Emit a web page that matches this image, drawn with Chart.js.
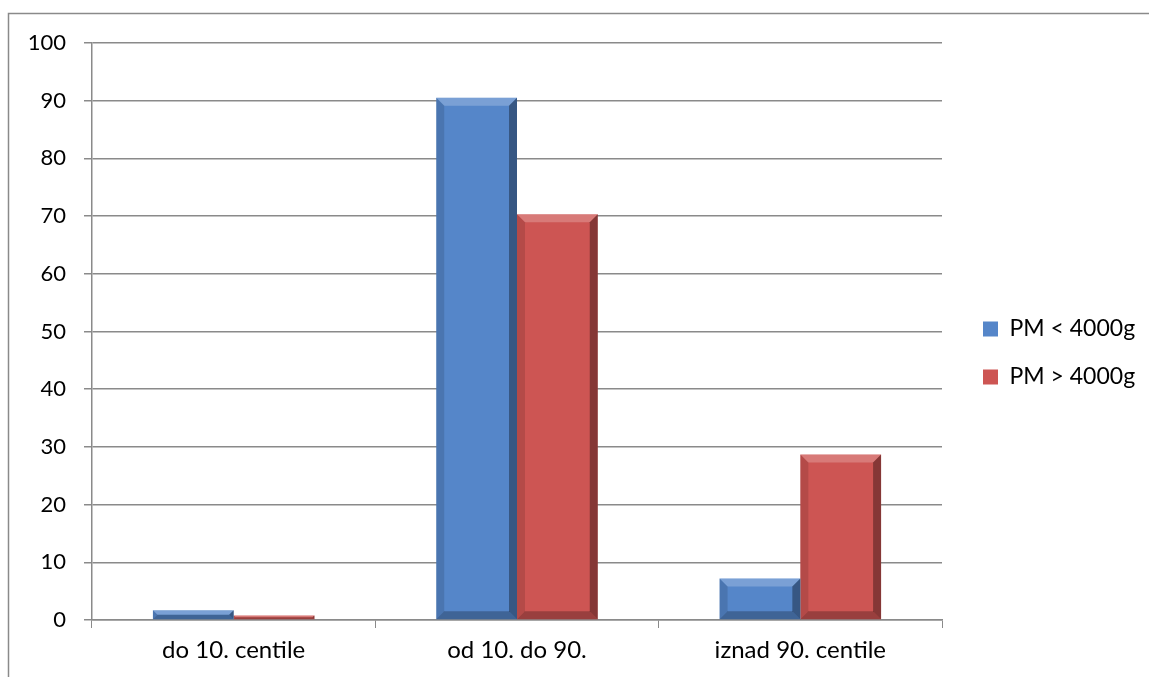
<!DOCTYPE html>
<html>
<head>
<meta charset="utf-8">
<script src="https://cdn.jsdelivr.net/npm/chart.js@4"></script>
<style>
  html, body { margin: 0; padding: 0; background: #fff; }
  #wrap { width: 1149px; height: 677px; }
</style>
</head>
<body>
<div id="wrap"><canvas id="chart" width="1149" height="677"></canvas></div>
<script>
const categories = ['do 10. centile', 'od 10. do 90.', 'iznad 90. centile'];
const seriesNames = ['PM < 4000g', 'PM > 4000g'];
const under4000 = [1.7, 90.5, 7.2];
const over4000 = [0.8, 70.3, 28.7];
const yTicks = [0, 10, 20, 30, 40, 50, 60, 70, 80, 90, 100];

const FONT = 'Lato, "Open Sans", sans-serif';
const blue = '#5586c9';
const red = '#cd5553';

// outer frame of the chart object
const frame = {
  id: 'frame',
  beforeDraw(chart) {
    const { ctx } = chart;
    ctx.save();
    ctx.fillStyle = '#fff';
    ctx.fillRect(0, 0, chart.width, chart.height);
    ctx.strokeStyle = '#8a8a8a';
    ctx.lineWidth = 1.5;
    ctx.strokeRect(8.5, 13.5, chart.width + 20, chart.height + 20);
    ctx.restore();
  },
};

// fixed legend column, shifted a bit right of the plot
const legendBox = {
  id: 'legendBox',
  afterInit(chart) {
    const lg = chart.legend;
    const fit = lg.fit.bind(lg);
    lg.fit = function () {
      fit();
      this.width = 207;
    };
  },
  afterLayout(chart) {
    const lg = chart.legend;
    lg.left += 16;
    lg.right += 16;
  },
};

// cheap bevel: light top edge, dark right/bottom edge
const bevel = {
  id: 'bevel',
  afterDatasetsDraw(chart) {
    const { ctx } = chart;
    ctx.save();
    chart.data.datasets.forEach((ds, i) => {
      chart.getDatasetMeta(i).data.forEach((bar) => {
        const { x, y, base, width } = bar.getProps(['x', 'y', 'base', 'width'], true);
        const l = x - width / 2;
        const r = x + width / 2;
        const h = base - y;
        const e = Math.min(8, h / 2);
        ctx.fillStyle = 'rgba(255,255,255,0.22)';
        ctx.beginPath();
        ctx.moveTo(l, y); ctx.lineTo(r, y); ctx.lineTo(r - e, y + e); ctx.lineTo(l + e, y + e);
        ctx.closePath(); ctx.fill();
        ctx.fillStyle = 'rgba(0,0,0,0.35)';
        ctx.beginPath();
        ctx.moveTo(r, y); ctx.lineTo(r, base); ctx.lineTo(r - e, base - e); ctx.lineTo(r - e, y + e);
        ctx.closePath(); ctx.fill();
        ctx.fillStyle = 'rgba(0,0,0,0.25)';
        ctx.beginPath();
        ctx.moveTo(l, base); ctx.lineTo(r, base); ctx.lineTo(r - e, base - e); ctx.lineTo(l + e, base - e);
        ctx.closePath(); ctx.fill();
        ctx.fillStyle = 'rgba(0,0,0,0.12)';
        ctx.beginPath();
        ctx.moveTo(l, y); ctx.lineTo(l + e, y + e); ctx.lineTo(l + e, base - e); ctx.lineTo(l, base);
        ctx.closePath(); ctx.fill();
      });
    });
    ctx.restore();
  },
};

new Chart(document.getElementById('chart'), {
  type: 'bar',
  data: {
    labels: categories,
    datasets: [
      { label: seriesNames[0], data: under4000, backgroundColor: blue },
      { label: seriesNames[1], data: over4000, backgroundColor: red },
    ],
  },
  options: {
    responsive: false,
    animation: false,
    devicePixelRatio: 1,
    layout: { padding: { top: 43, right: 0, bottom: 14, left: 0 } },
    datasets: {
      bar: { barPercentage: 1, categoryPercentage: 0.57 },
    },
    plugins: {
      title: { display: false },
      tooltip: { enabled: false },
      legend: {
        position: 'right',
        labels: {
          boxWidth: 15,
          boxHeight: 15,
          padding: 25,
          color: '#000',
          font: { family: FONT, size: 23 },
        },
      },
    },
    scales: {
      x: {
        afterFit(axis) { axis.height = 43; },
        grid: {
          offset: true,
          drawOnChartArea: false,
          drawTicks: true,
          tickLength: 8,
          color: '#8a8a8a',
        },
        border: { color: '#8a8a8a', width: 1.5 },
        ticks: { color: '#000', padding: 8, font: { family: FONT, size: 24 } },
      },
      y: {
        min: 0,
        max: 100,
        afterFit(axis) { axis.width = 92; },
        afterBuildTicks(axis) { axis.ticks = yTicks.map((v) => ({ value: v })); },
        grid: { color: '#8a8a8a', lineWidth: 1.5, tickLength: 8 },
        border: { color: '#8a8a8a', width: 1.5 },
        ticks: { color: '#000', padding: 18, font: { family: FONT, size: 22 } },
      },
    },
  },
  plugins: [frame, legendBox, bevel],
});
</script>
</body>
</html>
